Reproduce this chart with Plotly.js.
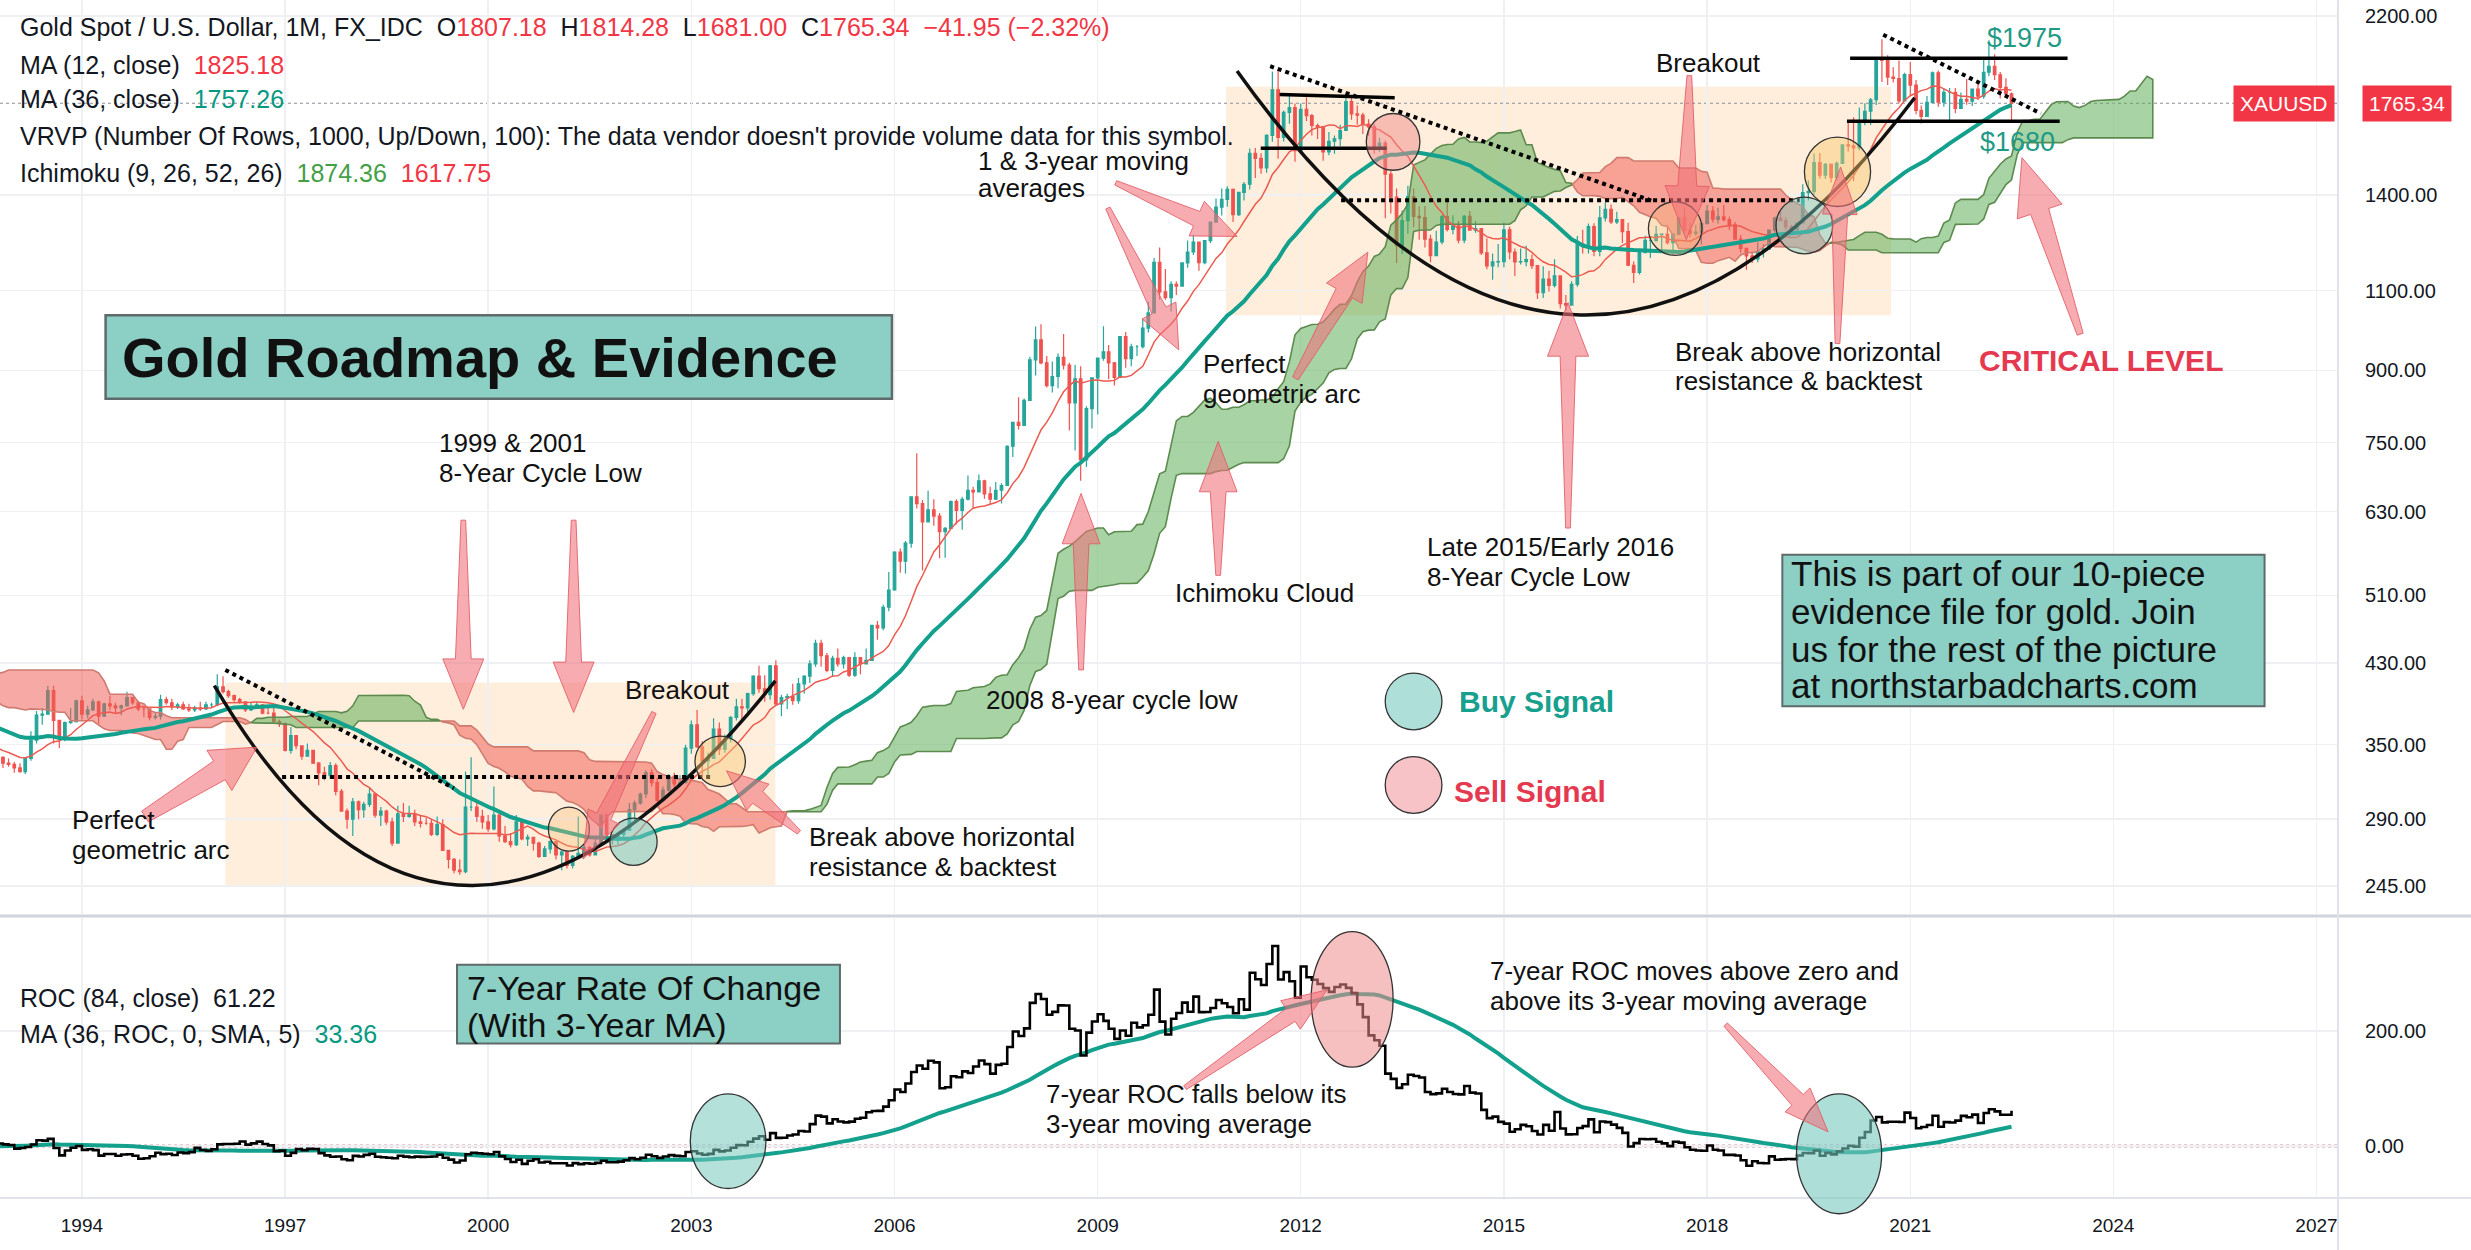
<!DOCTYPE html>
<html><head><meta charset="utf-8">
<script src="https://cdn.plot.ly/plotly-3.0.1.min.js"></script>
<style>html,body{margin:0;padding:0;background:#fff}</style>
</head><body><div id="chart" style="width:2471px;height:1250px"></div>
<script>
// ---------- DATA (monthly gold spot, USD) ----------
// closes before the candle series (Jan 1982 - Dec 1984), only needed for the 84-month ROC
const closeEarly = [
 384,362,320,350,334,314,342,411,397,423,414,448,
 481,409,415,430,437,413,423,416,405,382,405,382,
 373,394,388,376,384,373,342,348,341,333,329,309];
// candle series starts Jan 1985, ends Jul 2022
const candleStart = {year:1985, month:0};
const closes = [
 302,298,325,321,316,317,327,334,326,325,325,327,
 346,339,344,345,343,346,357,385,424,401,383,391,
 405,405,420,452,451,448,462,453,460,468,492,486,
 457,426,457,450,456,437,437,428,397,412,423,410,
 394,387,383,377,362,373,368,360,366,375,408,401,
 415,407,368,367,363,352,372,387,408,380,384,386,
 366,363,356,357,360,368,362,347,354,358,366,353,
 354,353,341,337,337,343,357,340,349,339,334,333,
 330,327,338,354,377,378,401,372,355,370,371,391,
 378,382,390,376,388,386,384,386,394,389,383,383,
 375,376,392,389,385,387,383,382,384,383,387,387,
 405,400,396,392,390,382,385,387,379,379,371,369,
 345,358,349,340,345,334,326,324,332,311,296,290,
 303,297,301,309,293,296,288,273,294,292,294,288,
 287,287,279,286,268,262,255,254,299,299,292,288,
 283,293,278,274,272,288,276,277,273,264,269,274,
 265,267,258,264,266,270,265,273,293,279,275,279,
 282,297,302,309,326,318,304,312,323,317,318,347,
 368,348,336,338,364,346,355,375,385,384,398,416,
 403,397,427,388,394,395,391,408,416,429,452,438,
 422,435,429,436,417,436,429,433,473,470,495,517,
 569,556,582,654,643,614,633,623,599,604,646,632,
 650,665,662,681,659,650,665,673,743,789,783,834,
 924,972,917,866,886,930,912,829,881,718,817,883,
 928,943,917,884,980,927,955,955,1001,1040,1182,1097,
 1081,1118,1113,1180,1213,1244,1181,1248,1308,1358,1385,1421,
 1333,1410,1439,1556,1536,1500,1628,1826,1620,1725,1746,1566,
 1738,1711,1669,1664,1561,1604,1614,1648,1773,1719,1713,1675,
 1663,1578,1596,1476,1393,1234,1313,1395,1327,1323,1253,1202,
 1244,1326,1284,1296,1250,1327,1282,1287,1210,1171,1183,1184,
 1283,1213,1183,1184,1190,1172,1095,1133,1115,1142,1065,1061,
 1118,1238,1233,1293,1215,1322,1351,1309,1316,1277,1173,1152,
 1211,1249,1249,1268,1269,1242,1269,1322,1280,1271,1275,1303,
 1345,1318,1325,1316,1299,1253,1224,1201,1192,1215,1222,1282,
 1321,1313,1292,1284,1305,1409,1413,1520,1472,1513,1464,1517,
 1589,1585,1577,1687,1730,1781,1975,1967,1886,1879,1776,1898,
 1848,1734,1708,1769,1906,1770,1814,1814,1743,1783,1775,1829,
 1797,1909,1937,1897,1837,1807.18,1765.34];
const highs = [
 310,306,340,332,322,320,330,343,330,331,331,331,
 358,352,352,347,349,347,358,390,440,432,408,394,
 412,410,424,477,464,456,472,466,464,480,497,500,
 486,457,458,458,462,462,445,446,428,414,433,428,
 416,397,395,391,377,376,385,373,369,377,420,418,
 424,421,407,378,373,365,373,414,412,411,390,395,
 404,370,367,362,362,372,372,362,356,362,371,368,
 360,356,354,343,340,344,362,357,350,349,340,338,
 335,334,339,362,381,384,406,406,372,371,384,392,
 396,386,393,391,389,396,389,387,400,394,391,386,
 381,380,397,395,393,389,390,388,386,390,390,389,
 418,416,402,397,394,390,389,390,386,386,384,373,
 370,366,358,349,351,345,335,331,335,334,313,298,
 306,304,303,314,310,299,297,291,300,302,300,297,
 293,291,290,292,290,268,263,262,327,339,303,297,
 293,315,295,285,280,293,290,279,276,274,271,275,
 273,268,267,265,292,272,271,276,293,294,279,280,
 283,302,304,310,328,329,322,315,325,326,324,350,
 372,382,353,343,374,370,359,376,393,393,399,417,
 427,417,428,433,397,398,408,414,417,433,456,456,
 441,438,446,438,437,442,430,446,473,478,498,541,
 570,574,585,655,730,649,664,650,628,606,648,650,
 654,690,671,692,683,671,679,677,745,790,841,838,
 931,1005,1011,933,920,939,986,917,912,909,822,884,
 929,1006,959,919,981,991,962,959,1025,1070,1195,1227,
 1162,1127,1126,1180,1249,1265,1245,1250,1310,1388,1424,1432,
 1424,1411,1447,1575,1577,1556,1632,1913,1921,1733,1803,1764,
 1764,1792,1718,1677,1667,1642,1627,1672,1789,1797,1755,1723,
 1695,1676,1617,1607,1488,1424,1347,1434,1424,1361,1362,1267,
 1280,1332,1392,1331,1312,1332,1345,1312,1287,1256,1208,1238,
 1307,1293,1224,1224,1232,1205,1172,1170,1157,1191,1142,1088,
 1127,1263,1283,1303,1304,1362,1375,1367,1343,1317,1306,1184,
 1220,1264,1261,1295,1270,1296,1270,1326,1357,1306,1299,1306,
 1366,1361,1356,1366,1326,1308,1266,1219,1214,1243,1237,1284,
 1326,1346,1324,1299,1306,1439,1453,1555,1557,1518,1516,1524,
 1591,1689,1704,1747,1765,1789,1981,2075,1992,1933,1966,1906,
 1959,1872,1755,1798,1913,1917,1833,1834,1834,1814,1877,1831,
 1853,1974,2070,1998,1910,1880,1814.28];
const lows = [
 298,284,286,315,312,310,315,327,317,320,321,320,
 327,334,330,337,338,338,340,355,383,400,380,382,
 391,396,402,420,440,442,447,448,450,452,465,478,
 442,424,427,446,446,436,425,423,391,396,411,410,
 392,384,380,377,356,358,362,355,356,358,374,400,
 397,405,368,365,357,345,350,368,384,374,376,374,
 366,357,349,353,354,357,359,346,346,355,356,353,
 350,350,339,336,333,336,342,338,339,339,330,331,
 326,326,325,336,351,368,378,351,347,353,369,370,
 373,374,381,369,376,382,379,377,386,387,381,375,
 372,373,373,387,382,383,382,380,380,381,382,384,
 386,398,394,390,388,380,381,384,378,378,371,366,
 344,342,346,337,340,334,316,320,321,308,296,283,
 278,290,291,299,291,285,286,271,273,288,291,285,
 284,286,278,278,268,256,253,252,253,296,288,283,
 281,282,274,273,270,271,275,271,268,263,264,266,
 262,255,256,256,264,263,264,265,272,276,272,272,
 276,282,288,301,306,315,303,303,311,313,316,318,
 342,347,321,322,338,341,343,352,372,373,376,396,
 399,390,392,386,376,383,387,388,398,409,426,426,
 420,415,426,424,415,415,418,430,433,456,467,490,
 516,540,539,575,635,543,614,608,560,561,616,610,
 602,648,635,663,651,642,649,643,673,723,775,786,
 849,888,914,862,851,860,902,773,735,681,705,777,
 805,922,880,866,884,906,909,933,951,990,1043,1076,
 1075,1044,1088,1116,1166,1204,1157,1176,1241,1318,1330,1360,
 1308,1328,1381,1420,1462,1478,1481,1602,1535,1603,1676,1523,
 1563,1688,1627,1613,1527,1548,1554,1584,1648,1693,1672,1634,
 1626,1555,1562,1321,1337,1180,1207,1270,1291,1251,1227,1182,
 1200,1237,1277,1268,1240,1240,1281,1273,1204,1161,1131,1167,
 1167,1191,1142,1175,1170,1162,1077,1080,1098,1109,1052,1046,
 1062,1111,1208,1208,1200,1200,1310,1302,1302,1241,1171,1122,
 1146,1209,1195,1245,1214,1236,1205,1265,1277,1260,1264,1236,
 1302,1307,1303,1310,1282,1251,1211,1160,1180,1182,1196,1221,
 1275,1311,1281,1266,1267,1311,1381,1400,1459,1458,1445,1454,
 1517,1563,1451,1568,1670,1671,1757,1863,1849,1860,1765,1776,
 1802,1717,1677,1720,1768,1750,1750,1688,1721,1746,1759,1753,
 1780,1786,1890,1872,1787,1805,1681.00];
const priceTicks = [245,290,350,430,510,630,750,900,1100,1400,2200];
const rocTicks = [0,200];
const yearTicks = [1994,1997,2000,2003,2006,2009,2012,2015,2018,2021,2024,2027];
const lastPrice = 1765.34;

// ---------- helpers ----------
const FONT = 'Liberation Sans, Arial, sans-serif';
const PW = 2338, PH = 1198;            // plot area size (margins r=133, b=52)
const KX = 2471/1568, KY = 1250/793;   // layout sketch scale
const fx = s => s*KX/PW, fy = s => 1 - s*KY/PH;
const pad = n => String(n).padStart(2,'0');
function monthDate(i){ const d = new Date(Date.UTC(candleStart.year, candleStart.month + i, 1)); return d.getUTCFullYear()+'-'+pad(d.getUTCMonth()+1)+'-01'; }
function monthMs(i){ return Date.UTC(candleStart.year, candleStart.month + i, 1); }
function iso(ms){ const d=new Date(ms); return d.getUTCFullYear()+'-'+pad(d.getUTCMonth()+1)+'-'+pad(d.getUTCDate())+' '+pad(d.getUTCHours())+':00'; }

const n = closes.length;
const allClose = closeEarly.concat(closes), off = closeEarly.length;
const X = [], O = [], Hh = [], Lw = [];
for (let i=0;i<n;i++){
  X.push(monthDate(i));
  const o = i===0 ? closeEarly[closeEarly.length-1] : closes[i-1];
  O.push(o);
  Hh.push(Math.max(highs[i], o, closes[i]));
  Lw.push(Math.min(lows[i], o, closes[i]));
}
function sma(arr, p, k){ let s=0; for(let j=k-p+1;j<=k;j++) s+=arr[j]; return s/p; }
const ma12 = [], ma36 = [], roc = [], rocMa = [];
for (let i=0;i<n;i++){
  const k = i+off;
  ma12.push(k>=11 ? sma(allClose,12,k) : null);
  ma36.push(k>=35 ? sma(allClose,36,k) : null);
  roc.push(k>=84 ? (allClose[k]-allClose[k-84])/allClose[k-84]*100 : null);
}
for (let i=0;i<n;i++){
  let ok = i>=35; if(ok){ for(let j=i-35;j<=i;j++) if(roc[j]===null){ok=false;break;} }
  rocMa.push(ok ? sma(roc,36,i) : null);
}
// Ichimoku (9, 26, 52, 26)
function mid(p,i){ let h=-Infinity,l=Infinity; for(let j=i-p+1;j<=i;j++){h=Math.max(h,Hh[j]);l=Math.min(l,Lw[j]);} return (h+l)/2; }
const lead = 25, spanA = {}, spanB = {};
for (let i=51;i<n;i++){ spanA[i+lead] = (mid(9,i)+mid(26,i))/2; spanB[i+lead] = mid(52,i); }
const cloudIdx = Object.keys(spanA).map(Number).sort((a,b)=>a-b);
const segs = []; let cur = null, prev = null;
for (const j of cloudIdx){
  const a = spanA[j], b = spanB[j], up = a>=b, xm = monthMs(j);
  if (!cur){ cur = {up, x:[xm], a:[a], b:[b]}; }
  else if (up === cur.up){ cur.x.push(xm); cur.a.push(a); cur.b.push(b); }
  else {
    const a0=spanA[prev], b0=spanB[prev], x0=monthMs(prev);
    const t = (a0-b0)/((a0-b0)-(a-b)); const xc = x0 + t*(xm-x0), yc = a0 + t*(a-a0);
    cur.x.push(xc); cur.a.push(yc); cur.b.push(yc); segs.push(cur);
    cur = {up, x:[xc, xm], a:[yc, a], b:[yc, b]};
  }
  prev = j;
}
segs.push(cur);

const traces = [];
for (const s of segs){
  traces.push({type:'scatter', mode:'lines', xaxis:'x', yaxis:'y',
    x: s.x.concat(s.x.slice().reverse()).map(iso), y: s.a.concat(s.b.slice().reverse()),
    fill:'toself', fillcolor: s.up ? 'rgba(88,170,82,0.52)' : 'rgba(240,92,82,0.52)',
    line:{color: s.up ? '#5d8b4f' : '#cf7b70', width:1.6}, hoverinfo:'skip'});
}
traces.push({type:'candlestick', xaxis:'x', yaxis:'y', x:X, open:O, high:Hh, low:Lw, close:closes,
  increasing:{line:{color:'#26a69a', width:1.2}, fillcolor:'#26a69a'},
  decreasing:{line:{color:'#ef5350', width:1.2}, fillcolor:'#ef5350'},
  whiskerwidth:0, hoverinfo:'skip'});
traces.push({type:'scatter', mode:'lines', xaxis:'x', yaxis:'y', x:X, y:ma12, line:{color:'#ec5a50', width:1.5}, hoverinfo:'skip'});
traces.push({type:'scatter', mode:'lines', xaxis:'x', yaxis:'y', x:X, y:ma36, line:{color:'#13a08c', width:4}, hoverinfo:'skip'});
traces.push({type:'scatter', mode:'lines', xaxis:'x', yaxis:'y2', x:X, y:rocMa, line:{color:'#13a08c', width:4}, hoverinfo:'skip'});
traces.push({type:'scatter', mode:'lines', xaxis:'x', yaxis:'y2', x:X, y:roc, line:{color:'#000', width:2.6, shape:'hv'}, hoverinfo:'skip'});

// ---------- layout decorations ----------
const yMainRange = [2.35842, 3.35995], yMainDom = [0.237, 1];
const priceToPaper = p => yMainDom[0] + (Math.log10(p)-yMainRange[0])/(yMainRange[1]-yMainRange[0])*(yMainDom[1]-yMainDom[0]);
const shapes = [], ann = [];
function rect(x0,y0,x1,y1,fill,line,lw,layer){ shapes.push({type:'rect',xref:'paper',yref:'paper',x0:fx(x0),x1:fx(x1),y0:fy(y1),y1:fy(y0),fillcolor:fill,line:{color:line||'rgba(0,0,0,0)',width:lw||0},layer:layer||'above'}); }
function circ(cx,cy,rx,ry,fill,lay){ shapes.push({type:'circle',xref:'paper',yref:'paper',x0:fx(cx-rx),x1:fx(cx+rx),y0:fy(cy+ry),y1:fy(cy-ry),fillcolor:fill,line:{color:'#333',width:1.3},layer:lay||'above'}); }
function seg(x0,y0,x1,y1,dash,w,col){ shapes.push({type:'line',xref:'paper',yref:'paper',x0:fx(x0),x1:fx(x1),y0:fy(y0),y1:fy(y1),line:{color:col||'#000',width:w,dash:dash||'solid'},layer:'above'}); }
function curve(x0,y0,cx,cy,x1,y1){ shapes.push({type:'path',xref:'paper',yref:'paper',path:`M${fx(x0)},${fy(y0)} Q${fx(cx)},${fy(cy)} ${fx(x1)},${fy(y1)}`,line:{color:'#111',width:3.5},layer:'above'}); }
function arrow(tx,ty,hx,hy,wt,wb,hw,hl){
  const T=[tx*KX,ty*KY], H=[hx*KX,hy*KY]; let dx=H[0]-T[0], dy=H[1]-T[1]; const L=Math.hypot(dx,dy); dx/=L; dy/=L;
  const nx=-dy, ny=dx, s=KX; wt*=s; wb*=s; hw*=s; hl*=s;
  const B=[H[0]-dx*hl, H[1]-dy*hl];
  const pts=[[T[0]+nx*wt/2,T[1]+ny*wt/2],[B[0]+nx*wb/2,B[1]+ny*wb/2],[B[0]+nx*hw/2,B[1]+ny*hw/2],H,[B[0]-nx*hw/2,B[1]-ny*hw/2],[B[0]-nx*wb/2,B[1]-ny*wb/2],[T[0]-nx*wt/2,T[1]-ny*wt/2]];
  shapes.push({type:'path',xref:'paper',yref:'paper',path:'M'+pts.map(p=>(p[0]/PW).toFixed(5)+','+(1-p[1]/PH).toFixed(5)).join(' L')+' Z',
    fillcolor:'rgba(242,112,122,0.58)',line:{color:'rgba(225,90,100,0.85)',width:1},layer:'above'});
}
function txt(xs,ys,text,size,color,opt){ opt=opt||{}; ann.push({xref:'paper',yref:'paper',x:fx(xs),y:fy(ys),text,showarrow:false,xanchor:opt.xa||'left',yanchor:'middle',
  font:{family:opt.fam||FONT,size,color:color||'#111',weight:opt.bold?'bold':'normal'},bgcolor:opt.bg,borderpad:opt.bp||0}); }

// peach cup areas
rect(143,433,492,562,'rgba(253,215,170,0.42)',null,0,'below');
rect(778,55,1200,200,'rgba(253,215,170,0.42)',null,0,'below');
// price line
shapes.push({type:'line',xref:'paper',yref:'paper',x0:0,x1:1,y0:priceToPaper(lastPrice),y1:priceToPaper(lastPrice),line:{color:'#8a8f99',width:1.2,dash:'dot'},layer:'below'});
// frame / separators
shapes.push({type:'line',xref:'paper',yref:'paper',x0:0,x1:2471/PW,y0:0.2354,y1:0.2354,line:{color:'#d1d4dc',width:3}});
shapes.push({type:'line',xref:'paper',yref:'paper',x0:0,x1:2471/PW,y0:0,y1:0,line:{color:'#e0e3eb',width:2}});
shapes.push({type:'line',xref:'paper',yref:'paper',x0:1,x1:1,y0:-52/PH,y1:1,line:{color:'#e0e3eb',width:2}});
// zero line in ROC panel
shapes.push({type:'line',xref:'paper',yref:'y2',x0:0,x1:1,y0:0,y1:0,line:{color:'#b02a3c',width:2.6,dash:'dot'},layer:'below'});
// arcs
curve(136,435,286,690,492,432);
curve(785,45,1000,346,1215,62);
// dotted trend lines
seg(143,425,288,500,'dot',4);
seg(179,493,453,493,'dot',4);
seg(806,42,1050,128,'dot',4);
seg(851,127,1142,127,'dot',4);
seg(1195,22,1295,72,'dot',4);
// solid range lines
seg(812,60,885,62,'solid',3.5);
seg(800,94,880,94,'solid',3.5);
seg(1174,37,1312,37,'solid',3.5);
seg(1172,77,1307,77,'solid',3.5);
// signal circles
circ(361,526,13,14,'rgba(250,190,120,0.35)');
circ(402,534,15,15,'rgba(120,200,190,0.55)');
circ(457,483,16,16,'rgba(250,200,120,0.45)');
circ(884,90,17,18,'rgba(240,140,140,0.5)');
circ(1063,145,17,17,'rgba(250,190,120,0.3)');
circ(1145,143,18,18,'rgba(120,200,190,0.45)');
circ(1166,109,21,22,'rgba(250,200,110,0.45)');
circ(462,724,24,30,'rgba(120,200,190,0.55)');
circ(858,634,26,43,'rgba(240,140,140,0.55)');
circ(1167,732,27,38,'rgba(120,200,190,0.6)');
circ(897,445,18,18,'rgba(140,210,200,0.7)');
circ(897,498,18,18,'rgba(245,170,175,0.7)');
// arrows
arrow(294,330,294,450,3,10,26,32);
arrow(364,330,364,452,3,10,26,32);
arrow(92,518,163,474,8,14,30,28);
arrow(415,452,370,545,3,10,22,30);
arrow(507,528,461,489,3,10,22,26);
arrow(686,425,686,313,3,10,24,32);
arrow(773,365,773,280,3,10,24,32);
arrow(822,240,868,160,4,12,26,30);
arrow(708,116,785,150,3,10,24,28);
arrow(703,132,748,222,3,10,24,28);
arrow(995,335,995,192,3,10,26,34);
arrow(1072,48,1070,152,3,12,28,34);
arrow(1166,218,1168,106,3,10,22,30);
arrow(1320,212,1283,100,4,12,30,36);
arrow(752,690,842,628,3,10,22,28);
arrow(1095,650,1160,718,3,10,22,28);
// text boxes
rect(67,200,566,253,'#8ccfc5','#5f6a6a',2.5);
rect(290,612,533,662,'#8ccfc5','#5f6a6a',2);
rect(1131,352,1437,448,'#8ccfc5','#5f6a6a',2);

// legend texts
const R='#f23645', TL='#089981', G='#43a047', LG=25;
const sp=(c,t)=>`<span style="color:${c}">${t}</span>`;
txt(12,17,`Gold Spot / U.S. Dollar, 1M, FX_IDC  O${sp(R,'1807.18')}  H${sp(R,'1814.28')}  L${sp(R,'1681.00')}  C${sp(R,'1765.34')}  ${sp(R,'−41.95 (−2.32%)')}`,LG,'#131722');
txt(12,41,`MA (12, close)  ${sp(R,'1825.18')}`,LG,'#131722');
txt(12,63,`MA (36, close)  ${sp(TL,'1757.26')}`,LG,'#131722');
txt(12,86,`VRVP (Number Of Rows, 1000, Up/Down, 100): The data vendor doesn't provide volume data for this symbol.`,LG,'#131722');
txt(12,110,`Ichimoku (9, 26, 52, 26)  ${sp(G,'1874.36')}  ${sp(R,'1617.75')}`,LG,'#131722');
txt(12,633,`ROC (84, close)  61.22`,LG,'#131722');
txt(12,656,`MA (36, ROC, 0, SMA, 5)  ${sp(TL,'33.36')}`,LG,'#131722');
// boxes text
txt(77,227,'Gold Roadmap &amp; Evidence',56,'#111',{bold:true});
txt(296,627,'7-Year Rate Of Change',34,'#111');
txt(296,650,'(With 3-Year MA)',34,'#111');
txt(1136,364,'This is part of our 10-piece',35,'#111');
txt(1136,388,'evidence file for gold. Join',35,'#111');
txt(1136,412,'us for the rest of the picture',35,'#111');
txt(1136,435,'at northstarbadcharts.com',35,'#111');
// annotations
const A=26;
txt(278,281,'1999 &amp; 2001',A); txt(278,300,'8-Year Cycle Low',A);
txt(396,438,'Breakout',A);
txt(45,520,'Perfect',A); txt(45,539,'geometric arc',A);
txt(513,531,'Break above horizontal',A); txt(513,550,'resistance &amp; backtest',A);
txt(625,444,'2008 8-year cycle low',A);
txt(745,376,'Ichimoku Cloud',A);
txt(763,231,'Perfect',A); txt(763,250,'geometric arc',A);
txt(620,102,'1 &amp; 3-year moving',A); txt(620,119,'averages',A);
txt(905,347,'Late 2015/Early 2016',A); txt(905,366,'8-Year Cycle Low',A);
txt(1050,40,'Breakout',A);
txt(1062,223,'Break above horizontal',A); txt(1062,242,'resistance &amp; backtest',A);
txt(1255,229,'CRITICAL LEVEL',30,'#e53950',{bold:true});
txt(1260,24,'$1975',27,'#1f9a86');
txt(1256,90,'$1680',27,'#1f9a86');
txt(925,445,'Buy Signal',30,'#17a08e',{bold:true});
txt(922,502,'Sell Signal',30,'#e53950',{bold:true});
txt(663,694,'7-year ROC falls below its',A); txt(663,713,'3-year moving average',A);
txt(945,616,'7-year ROC moves above zero and',A); txt(945,635,'above its 3-year moving average',A);
// price labels
ann.push({xref:'paper',yref:'paper',x:fx(1449.5),y:priceToPaper(lastPrice),text:'XAUUSD',showarrow:false,xanchor:'center',yanchor:'middle',
  font:{family:FONT,size:21,color:'#fff'},bgcolor:'#f23645',borderpad:6});
ann.push({xref:'paper',yref:'paper',x:fx(1527.5),y:priceToPaper(lastPrice),text:'1765.34',showarrow:false,xanchor:'center',yanchor:'middle',
  font:{family:FONT,size:21,color:'#fff'},bgcolor:'#f23645',borderpad:6});

const layout = {
  width:2471, height:1250, margin:{l:0,r:133,t:0,b:52},
  paper_bgcolor:'#fff', plot_bgcolor:'#fff', showlegend:false, hovermode:false, dragmode:false,
  font:{family:FONT, color:'#131722'},
  xaxis:{type:'date', anchor:'y2', range:['1992-10-16','2027-04-27'], tickmode:'array',
    tickvals: yearTicks.map(y=>y+'-01-01'), ticktext: yearTicks.map(String),
    showgrid:true, gridcolor:'#eef0f4', gridwidth:1.5, zeroline:false, showline:false, ticks:'',
    tickfont:{size:19,color:'#131722'}, ticklabelstandoff:14, rangeslider:{visible:false}, fixedrange:true},
  yaxis:{type:'log', domain:yMainDom, range:yMainRange, side:'right', tickmode:'array',
    tickvals:priceTicks, ticktext:priceTicks.map(v=>v.toFixed(2)), showgrid:true, gridcolor:'#eef0f4', gridwidth:1.5,
    zeroline:false, showline:false, ticks:'', tickfont:{size:20,color:'#131722'}, ticklabelstandoff:26, fixedrange:true},
  yaxis2:{domain:[0,0.2337], range:[-90.4,396.2], side:'right', tickmode:'array', tickvals:rocTicks,
    ticktext:rocTicks.map(v=>v.toFixed(2)), showgrid:true, gridcolor:'#eef0f4', gridwidth:1.5, zeroline:false,
    showline:false, ticks:'', tickfont:{size:20,color:'#131722'}, ticklabelstandoff:26, fixedrange:true},
  shapes, annotations: ann
};
Plotly.newPlot('chart', traces, layout, {staticPlot:true, displayModeBar:false});
</script></body></html>
